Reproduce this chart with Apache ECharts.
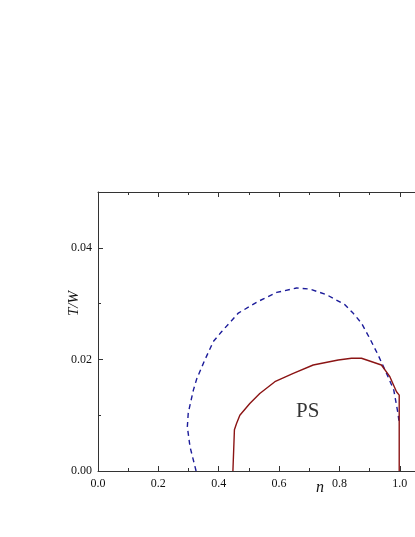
<!DOCTYPE html>
<html>
<head>
<meta charset="utf-8">
<script src="https://cdn.jsdelivr.net/npm/echarts@6/dist/echarts.min.js"></script>
<style>
  html, body { margin: 0; padding: 0; background: #fff; }
  #phase-chart { width: 415px; height: 537px; }
</style>
</head>
<body>
<div id="phase-chart"></div>
<script>
// dashed boundary (blue)
const dashN = [0.325, 0.305, 0.296, 0.299, 0.316, 0.327, 0.354, 0.382, 0.41, 0.465, 0.531, 0.592, 0.658, 0.702, 0.757, 0.818, 0.845, 0.873, 0.90, 0.928, 0.956, 0.98, 0.994, 0.997]
const dashTW = [0.0, 0.0043, 0.0079, 0.0104, 0.0145, 0.0165, 0.0199, 0.0232, 0.025, 0.0283, 0.0304, 0.032, 0.0328, 0.0326, 0.0316, 0.0298, 0.0283, 0.0265, 0.0238, 0.0208, 0.0175, 0.0145, 0.0103, 0.009]
// solid boundary of PS region (red)
const solidN = [0.447, 0.452, 0.459, 0.47, 0.503, 0.536, 0.586, 0.647, 0.713, 0.796, 0.84, 0.873, 0.939, 0.967, 0.989, 0.998, 0.998]
const solidTW = [0.0, 0.0074, 0.0085, 0.010, 0.0121, 0.0139, 0.016, 0.0175, 0.019, 0.0199, 0.0202, 0.0202, 0.019, 0.0169, 0.0142, 0.0136, 0.0]
// region label
const regionLabel = ['PS']
const regionPos = [[0.695, 0.0106]]
const yLabelTicks = ['0.00', '0.02', '0.04']

const zip = (a, b) => a.map((v, i) => [v, b[i]])
const serif = 'Liberation Serif'
const axisColor = '#333'

const chartObj = echarts.init(document.getElementById('phase-chart'))
chartObj.setOption({
  backgroundColor: '#fff',
  animation: false,
  grid: { left: 98, top: 192, width: 332, height: 279, outerBoundsMode: 'none', containLabel: false },
  xAxis: [
    {
      type: 'value', position: 'bottom', min: 0, max: 1.1, interval: 0.2,
      axisLine: { onZero: false, lineStyle: { color: axisColor, width: 1 } },
      axisTick: { inside: true, length: 5, lineStyle: { color: axisColor } },
      minorTick: { show: true, splitNumber: 2, length: 3, lineStyle: { color: axisColor } },
      axisLabel: {
        margin: 7, color: '#111', fontFamily: serif, fontSize: 12, showMaxLabel: false,
        formatter: v => v.toFixed(1)
      },
      splitLine: { show: false }
    },
    {
      type: 'value', position: 'top', min: 0, max: 1.1, interval: 0.2,
      axisLine: { onZero: false, lineStyle: { color: axisColor, width: 1 } },
      axisTick: { inside: true, length: 5, lineStyle: { color: axisColor } },
      minorTick: { show: true, splitNumber: 2, length: 3, lineStyle: { color: axisColor } },
      axisLabel: { show: false },
      splitLine: { show: false }
    }
  ],
  yAxis: [
    {
      type: 'value', position: 'left', min: 0, max: 0.05, interval: 0.01,
      axisLine: { onZero: false, lineStyle: { color: axisColor, width: 1 } },
      axisTick: { inside: true, length: 3, lineStyle: { color: axisColor } },
      axisLabel: {
        margin: 6, color: '#111', fontFamily: serif, fontSize: 12,
        formatter: v => (yLabelTicks.indexOf(v.toFixed(2)) >= 0 ? v.toFixed(2) : '')
      },
      splitLine: { show: false }
    },
    {
      type: 'value', position: 'left', min: 0, max: 0.05, interval: 0.02,
      axisLine: { show: false, onZero: false },
      axisTick: { inside: true, length: 5, lineStyle: { color: axisColor } },
      axisLabel: { show: false },
      splitLine: { show: false }
    }
  ],
  graphic: [
    {
      type: 'text', left: 316, top: 480,
      style: { text: 'n', font: 'italic 16px ' + serif, fill: '#111' }
    },
    {
      type: 'text', x: 67, y: 316, rotation: Math.PI / 2,
      style: { text: 'T/W', font: 'italic 15px ' + serif, fill: '#111' }
    }
  ],
  series: [
    {
      type: 'line', data: zip(dashN, dashTW), showSymbol: false, smooth: false,
      lineStyle: { color: '#1c1c9a', width: 1.4, type: [5, 4] }
    },
    {
      type: 'line', data: zip(solidN, solidTW), showSymbol: false, smooth: false,
      lineStyle: { color: '#8b1414', width: 1.4 }
    },
    {
      type: 'scatter', data: regionPos, symbolSize: 0,
      label: {
        show: true, position: 'inside', formatter: p => regionLabel[p.dataIndex],
        fontFamily: serif, fontSize: 21, color: '#000'
      }
    }
  ]
})
</script>
</body>
</html>
